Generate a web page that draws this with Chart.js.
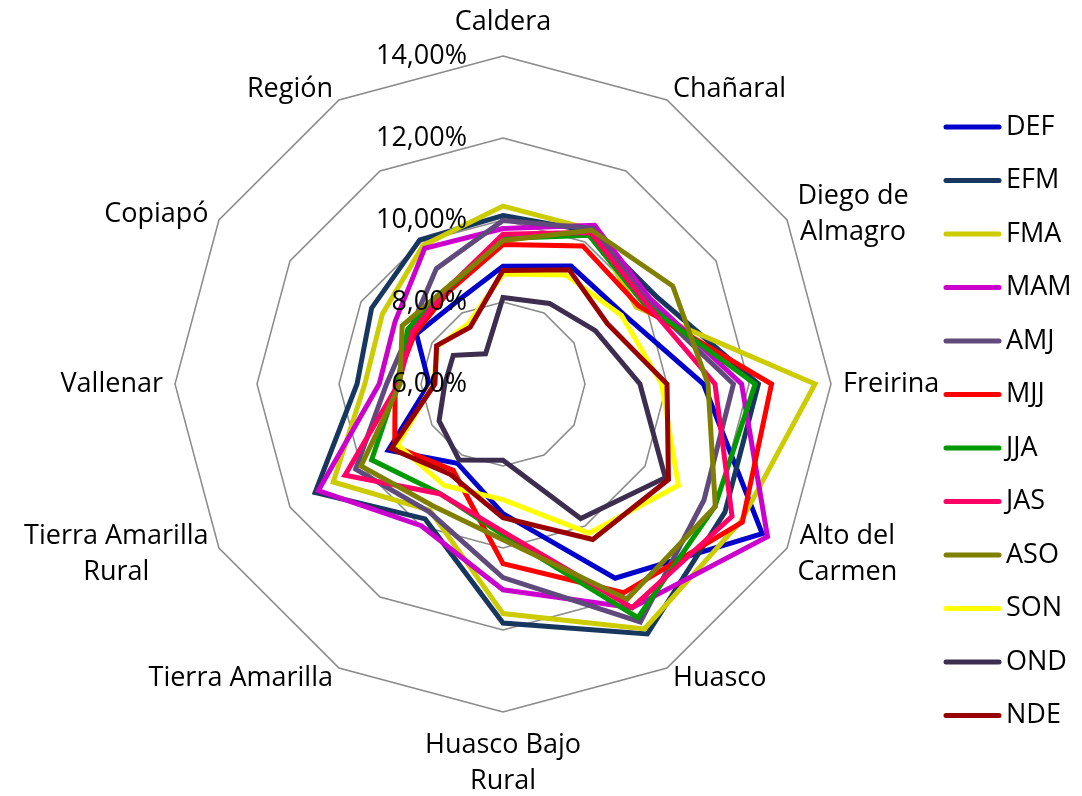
<!DOCTYPE html>
<html>
<head>
<meta charset="utf-8">
<script src="https://cdn.jsdelivr.net/npm/chart.js@4.4.0/dist/chart.umd.min.js"></script>
<style>
html, body { margin: 0; padding: 0; background: #fff; }
#wrap { position: relative; width: 1082px; height: 796px; }
</style>
</head>
<body>
<div id="wrap"><canvas id="radarChart"></canvas></div>
<script>
const categories = ['Caldera', 'Chañaral', ['Diego de', 'Almagro'], 'Freirina', ['Alto del', 'Carmen'], 'Huasco',
    ['Huasco Bajo', 'Rural'], 'Tierra Amarilla', ['Tierra Amarilla', 'Rural'], 'Vallenar', 'Copiapó', 'Región'];
const seriesNames = ['DEF', 'EFM', 'FMA', 'MAM', 'AMJ', 'MJJ', 'JJA', 'JAS', 'ASO', 'SON', 'OND', 'NDE'];
const seriesColors = ['#0000cc', '#17375e', '#cccc00', '#cc00cc', '#604a7b', '#ff0000',
    '#009900', '#ff0066', '#7f7f00', '#ffff00', '#3d2e4f', '#990000'];
const tickValues = [6, 8, 10, 12, 14];

// values in %
const DEF = [8.87, 9.32, 9.40, 10.89, 13.30, 11.47, 9.16, 8.23, 9.23, 7.80, 8.44, 8.30];
const EFM = [10.11, 10.30, 10.30, 12.23, 12.25, 13.04, 11.83, 9.80, 11.29, 9.56, 9.70, 10.06];
const FMA = [10.34, 10.35, 9.75, 13.61, 12.70, 12.90, 11.60, 9.56, 10.78, 9.37, 9.40, 9.90];
const MAM = [9.79, 10.47, 10.15, 11.82, 13.45, 12.30, 11.02, 9.99, 11.20, 9.02, 9.04, 9.82];
const AMJ = [9.99, 10.38, 10.05, 11.62, 11.66, 12.70, 10.72, 9.60, 10.15, 8.84, 8.62, 9.25];
const MJJ = [9.40, 9.89, 9.82, 12.55, 12.74, 11.88, 10.38, 8.43, 9.05, 8.63, 8.48, 8.62];
const JJA = [9.55, 10.19, 9.95, 12.15, 11.97, 12.58, 9.68, 9.08, 9.70, 8.58, 8.68, 8.68];
const JAS = [9.65, 10.27, 10.00, 11.17, 12.45, 12.30, 9.60, 9.09, 10.45, 8.55, 8.55, 8.70];
const ASO = [9.50, 10.33, 10.78, 11.00, 11.98, 12.06, 9.80, 9.43, 10.00, 8.51, 8.84, 8.72];
const SON = [8.68, 9.07, 9.34, 9.87, 10.94, 10.20, 8.82, 8.86, 8.97, 7.70, 7.84, 7.70];
const OND = [8.11, 8.27, 8.60, 9.34, 10.57, 9.79, 7.86, 8.14, 7.80, 7.42, 7.40, 6.85];
const NDE = [8.77, 9.22, 8.94, 10.00, 10.66, 10.38, 9.26, 8.55, 9.15, 7.66, 7.87, 7.60];

const seriesValues = [DEF, EFM, FMA, MAM, AMJ, MJJ, JJA, JAS, ASO, SON, OND, NDE];
const FONT = '"Open Sans", sans-serif';

const data1 = {
    labels: categories,
    datasets: seriesNames.map((name, i) => ({
        label: name,
        data: seriesValues[i],
        borderColor: seriesColors[i],
        backgroundColor: seriesColors[i],
        borderWidth: 5,
        pointRadius: 0,
        pointHoverRadius: 0,
        fill: false,
        order: seriesNames.length - i   // later series on top, like Excel
    }))
};

// tick labels, point labels and legend drawn Excel-style
const excelText = {
    id: 'excelText',
    afterDatasetsDraw(chart) {
        const scale = chart.scales.r;
        const ctx = chart.ctx;
        ctx.save();
        ctx.fillStyle = '#000';
        ctx.font = '27px ' + FONT;
        ctx.textBaseline = 'middle';

        ctx.textAlign = 'right';
        tickValues.forEach(v => {
            const y = scale.yCenter - scale.getDistanceFromCenterForValue(v);
            ctx.fillText(v.toFixed(2).replace('.', ',') + '%', scale.xCenter - 36, y);
        });

        ctx.textAlign = 'center';
        const lineH = 36;
        categories.forEach((label, i) => {
            const lines = Array.isArray(label) ? label : [label];
            const deg = i * 360 / categories.length;
            const p = scale.getPointPosition(i, scale.drawingArea + 12);
            const w = Math.max(...lines.map(l => ctx.measureText(l).width));
            let cx = p.x;
            if (deg > 0 && deg < 180) cx = p.x + w / 2;
            else if (deg > 180) cx = p.x - w / 2;
            let firstY;
            if (deg === 0) firstY = p.y - 22 - (lines.length - 1) * lineH;
            else if (deg === 180) firstY = p.y + 21;
            else firstY = p.y - (lines.length - 1) * lineH / 2;
            lines.forEach((l, k) => ctx.fillText(l, cx, firstY + k * lineH));
        });

        ctx.textAlign = 'left';
        ctx.lineWidth = 5;
        ctx.lineCap = 'round';
        chart.data.datasets.forEach((ds, i) => {
            const y = 127 + i * 53.5;
            ctx.strokeStyle = ds.borderColor;
            ctx.beginPath();
            ctx.moveTo(946, y);
            ctx.lineTo(999, y);
            ctx.stroke();
            ctx.fillText(ds.label, 1006, y);
        });
        ctx.restore();
    }
};

const options1 = {
    responsive: true,
    maintainAspectRatio: false,
    animation: false,
    layout: {
        padding: { top: 56, bottom: 84, left: 175, right: 251 }
    },
    elements: {
        line: { tension: 0 }
    },
    scales: {
        r: {
            min: 6,
            max: 14,
            ticks: { stepSize: 2, display: false },
            grid: { color: '#8a8a8a', lineWidth: 1.5 },
            angleLines: { display: false },
            pointLabels: { display: false }
        }
    },
    plugins: {
        legend: { display: false },
        tooltip: { enabled: false }
    }
};

const radarChart = new Chart(document.getElementById('radarChart'), {
    type: 'radar',
    data: data1,
    options: options1,
    plugins: [excelText]
});
</script>
</body>
</html>
